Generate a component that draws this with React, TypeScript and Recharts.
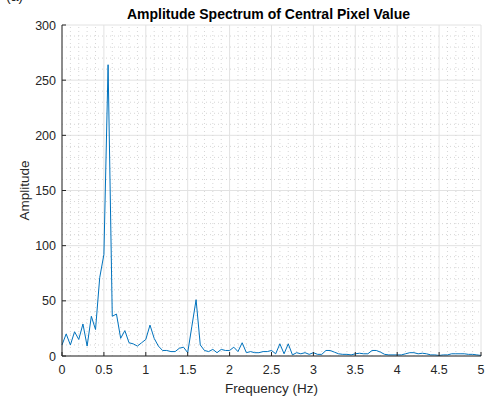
import React from 'react';
import { LineChart, Line, XAxis, YAxis, CartesianGrid, ReferenceLine, Label } from 'recharts';

const frequencies = [
  0, 0.05, 0.1, 0.15, 0.2, 0.25, 0.3, 0.35, 0.4, 0.45,
  0.5, 0.55, 0.6, 0.65, 0.7, 0.75, 0.8, 0.85, 0.9, 0.95,
  1, 1.05, 1.1, 1.15, 1.2, 1.25, 1.3, 1.35, 1.4, 1.45,
  1.5, 1.55, 1.6, 1.65, 1.7, 1.75, 1.8, 1.85, 1.9, 1.95,
  2, 2.05, 2.1, 2.15, 2.2, 2.25, 2.3, 2.35, 2.4, 2.45,
  2.5, 2.55, 2.6, 2.65, 2.7, 2.75, 2.8, 2.85, 2.9, 2.95,
  3, 3.05, 3.1, 3.15, 3.2, 3.25, 3.3, 3.35, 3.4, 3.45,
  3.5, 3.55, 3.6, 3.65, 3.7, 3.75, 3.8, 3.85, 3.9, 3.95,
  4, 4.05, 4.1, 4.15, 4.2, 4.25, 4.3, 4.35, 4.4, 4.45,
  4.5, 4.55, 4.6, 4.65, 4.7, 4.75, 4.8, 4.85, 4.9, 4.95,
  5,
];

const amplitudes = [
  10, 20, 10, 22, 15, 29, 9, 36, 24, 71,
  92, 264, 36, 38, 16, 23, 12, 11, 9, 12,
  15, 28, 16, 9, 5, 5, 4, 4, 7, 8,
  3, 27, 51, 10, 5, 4, 6, 3, 6, 5,
  5, 8, 4, 12, 3, 4, 3, 3, 4, 4,
  5, 2, 11, 2, 11, 1, 3, 2, 3, 1.5,
  3, 1.5, 1.5, 5, 5, 3.5, 2, 1.5, 1.5, 1,
  2, 2.5, 2, 2, 5, 5, 3.5, 1.5, 1, 1,
  1, 1, 2, 3, 3, 2, 2.5, 2, 1, 1,
  0.5, 1, 1, 2, 2, 2, 2, 1.5, 1.5, 1,
  0.5,
];

const xTicks = [0, 0.5, 1, 1.5, 2, 2.5, 3, 3.5, 4, 4.5, 5];
const yTicks = [0, 50, 100, 150, 200, 250, 300];
const xMinor = [
  0.1, 0.2, 0.3, 0.4, 0.6, 0.7, 0.8, 0.9, 1.1, 1.2, 1.3, 1.4, 1.6, 1.7, 1.8, 1.9,
  2.1, 2.2, 2.3, 2.4, 2.6, 2.7, 2.8, 2.9, 3.1, 3.2, 3.3, 3.4, 3.6, 3.7, 3.8, 3.9,
  4.1, 4.2, 4.3, 4.4, 4.6, 4.7, 4.8, 4.9,
];
const yMinor = [
  10, 20, 30, 40, 60, 70, 80, 90, 110, 120, 130, 140, 160, 170, 180, 190,
  210, 220, 230, 240, 260, 270, 280, 290,
];

const data = frequencies.map((f, i) => ({ f, a: amplitudes[i] }));

const AXIS = '#262626';
const FONT = '"Liberation Sans", Arial, Helvetica, sans-serif';

const BottomTick = (props: any) => {
  const { x, y, payload } = props;
  return (
    <g>
      <line x1={x} y1={y} x2={x} y2={y - 4} stroke={AXIS} strokeWidth={1} />
      <text x={x} y={y + 18} textAnchor="middle" fill={AXIS} fontSize={12.5} fontFamily={FONT}>
        {String(payload.value)}
      </text>
    </g>
  );
};

const TopTick = (props: any) => {
  const { x, y } = props;
  return <line x1={x} y1={y} x2={x} y2={y + 4} stroke={AXIS} strokeWidth={1} />;
};

const LeftTick = (props: any) => {
  const { x, y, payload } = props;
  return (
    <g>
      <line x1={x} y1={y} x2={x + 4} y2={y} stroke={AXIS} strokeWidth={1} />
      <text x={x - 6} y={y + 4.5} textAnchor="end" fill={AXIS} fontSize={12.5} fontFamily={FONT}>
        {String(payload.value)}
      </text>
    </g>
  );
};

const RightTick = (props: any) => {
  const { x, y } = props;
  return <line x1={x} y1={y} x2={x - 4} y2={y} stroke={AXIS} strokeWidth={1} />;
};

export default function App() {
  return (
    <div style={{ position: 'absolute', left: 0, top: 0, width: 487, height: 396, background: '#fff', overflow: 'hidden' }}>
      <div style={{ position: 'absolute', left: 6, top: -12, fontFamily: FONT, fontSize: 14, color: AXIS }}>(a)</div>
      <div
        style={{
          position: 'absolute',
          left: 0,
          top: 0,
          width: 487,
          textAlign: 'center',
          paddingLeft: 56,
          boxSizing: 'border-box',
          fontFamily: FONT,
          fontWeight: 'bold',
          fontSize: 14,
          color: '#000',
          lineHeight: '14px',
          paddingTop: 7,
        }}
      >
        <span style={{ position: 'relative', left: -3 }}>Amplitude Spectrum of Central Pixel Value</span>
      </div>
      <LineChart
        width={487}
        height={396}
        data={data}
        margin={{ top: 25, right: 6, bottom: 0, left: 0 }}
        style={{ position: 'absolute', left: 0, top: 0 }}
      >
        <CartesianGrid stroke="#e2e2e2" strokeWidth={1} />
        {xMinor.map((v) => (
          <ReferenceLine key={'x' + v} x={v} stroke="#d6d6d6" strokeDasharray="1 3" strokeWidth={1} />
        ))}
        {yMinor.map((v) => (
          <ReferenceLine key={'y' + v} y={v} stroke="#d6d6d6" strokeDasharray="1 3" strokeWidth={1} />
        ))}
        <XAxis
          dataKey="f"
          type="number"
          domain={[0, 5]}
          ticks={xTicks}
          interval={0}
          height={40}
          tickSize={0}
          tickMargin={0}
          tick={<BottomTick />}
          axisLine={{ stroke: AXIS, strokeWidth: 1 }}
          tickLine={false}
        >
          <Label
            content={(p: any) => {
              const vb = p.viewBox;
              return (
                <text x={vb.x + vb.width / 2} y={393} textAnchor="middle" fill={AXIS} fontSize={13.5} fontFamily={FONT}>
                  Frequency (Hz)
                </text>
              );
            }}
          />
        </XAxis>
        <XAxis
          xAxisId="top"
          orientation="top"
          type="number"
          domain={[0, 5]}
          ticks={xTicks}
          interval={0}
          height={0}
          tickSize={0}
          tickMargin={0}
          tick={<TopTick />}
          axisLine={{ stroke: AXIS, strokeWidth: 1 }}
          tickLine={false}
        />
        <YAxis
          type="number"
          domain={[0, 300]}
          ticks={yTicks}
          interval={0}
          width={62}
          tickSize={0}
          tickMargin={0}
          tick={<LeftTick />}
          axisLine={{ stroke: AXIS, strokeWidth: 1 }}
          tickLine={false}
        >
          <Label
            content={(p: any) => {
              const vb = p.viewBox;
              const cy = vb.y + vb.height / 2;
              return (
                <text
                  x={24}
                  y={cy}
                  transform={`rotate(-90 24 ${cy})`}
                  textAnchor="middle"
                  dominantBaseline="central"
                  fill={AXIS}
                  fontSize={13.5}
                  fontFamily={FONT}
                >
                  Amplitude
                </text>
              );
            }}
          />
        </YAxis>
        <YAxis
          yAxisId="right"
          orientation="right"
          type="number"
          domain={[0, 300]}
          ticks={yTicks}
          interval={0}
          width={0}
          tickSize={0}
          tickMargin={0}
          tick={<RightTick />}
          axisLine={{ stroke: AXIS, strokeWidth: 1 }}
          tickLine={false}
        />
        <Line
          type="linear"
          dataKey="a"
          stroke="#0072BD"
          strokeWidth={1}
          dot={false}
          activeDot={false}
          isAnimationActive={false}
        />
      </LineChart>
    </div>
  );
}
